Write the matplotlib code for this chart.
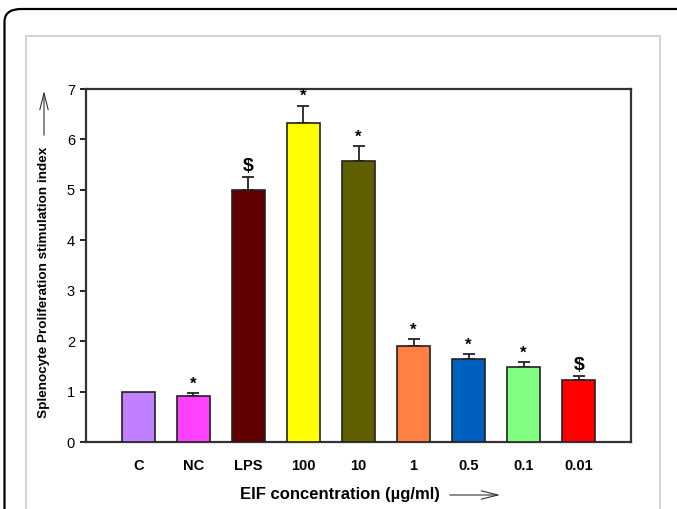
import matplotlib
matplotlib.use("Agg")
import matplotlib.pyplot as plt
from matplotlib.patches import FancyBboxPatch, Rectangle, FancyArrowPatch

plt.rcParams['font.family'] = ['Liberation Sans', 'DejaVu Sans']

categories = ["C", "NC", "LPS", "100", "10", "1", "0.5", "0.1", "0.01"]
values = [1.0, 0.91, 5.0, 6.32, 5.57, 1.91, 1.64, 1.49, 1.23]
errors = [0.0, 0.06, 0.26, 0.35, 0.30, 0.13, 0.10, 0.10, 0.07]
marks = ["", "*", "$", "*", "*", "*", "*", "*", "$"]
colors = ["#C080FF", "#FF40FF", "#600000", "#FFFF00", "#606000",
          "#FF8040", "#0060C0", "#80FF80", "#FF0000"]
yticks = [0, 1, 2, 3, 4, 5, 6, 7]

W, H = 677, 509
fig = plt.figure(figsize=(W / 100, H / 100), dpi=100)

# outer rounded black frame and inner light-grey frame
outer = FancyBboxPatch((4.5 / W, -0.2), 1.2, (H - 9) / H + 0.2,
                       boxstyle="round,pad=0,rounding_size=0.025",
                       transform=fig.transFigure, fill=False,
                       edgecolor="black", linewidth=1.6)
fig.patches.append(outer)
inner = Rectangle((26 / W, -0.1), (660 - 26) / W, (H - 36) / H + 0.1,
                  transform=fig.transFigure, fill=False,
                  edgecolor="#CCCCCC", linewidth=1.2)
fig.patches.append(inner)

left, right, top, bottom = 86, 631, 89, 442
ax = fig.add_axes([left / W, 1 - bottom / H, (right - left) / W, (bottom - top) / H])

x = list(range(len(categories)))
ax.bar(x, values, width=0.6, color=colors, edgecolor="#222222", linewidth=1.2, zorder=3)
err_x = [xi for xi, e in zip(x, errors) if e > 0]
err_v = [v for v, e in zip(values, errors) if e > 0]
err_e = [e for e in errors if e > 0]
ax.errorbar(err_x, err_v, yerr=[[0] * len(err_e), err_e], fmt="none",
            ecolor="#222222", elinewidth=1.3, capsize=4, capthick=1.3, zorder=2)

for xi, v, e, m in zip(x, values, errors, marks):
    if m == "*":
        ax.text(xi, v + e + 0.03, m, ha="center", va="bottom", fontsize=12,
                fontweight="bold")
    elif m == "$":
        ax.text(xi, v + e + 0.04, m, ha="center", va="bottom", fontsize=14,
                fontweight="bold")

ax.set_xlim(-0.95, 8.95)
ax.set_ylim(0, 7)
ax.set_yticks(yticks)
ax.set_yticklabels([str(t) for t in yticks], fontsize=10.5)
ax.set_xticks(x)
ax.set_xticklabels(categories, fontsize=10.5, fontweight="bold")
ax.tick_params(axis="x", length=0, pad=12)
ax.tick_params(axis="y", length=4, width=1.2, direction="out", pad=4)
for s in ax.spines.values():
    s.set_linewidth(1.6)
    s.set_color("#333333")

# axis labels with arrows
fig.text(340 / W, 1 - 494 / H, "EIF concentration (\u00b5g/ml)", ha="center",
         va="center", fontsize=12, fontweight="bold")
fig.patches.append(FancyArrowPatch((447 / W, 1 - 495 / H), (503 / W, 1 - 495 / H),
                                   transform=fig.transFigure,
                                   arrowstyle="->,head_length=12,head_width=3",
                                   linewidth=0.8, color="#333333"))
fig.text(44 / W, 1 - 282 / H, "Splenocyte Proliferation stimulation index",
         ha="center", va="center", rotation=90, fontsize=9.7, fontweight="bold")
fig.patches.append(FancyArrowPatch((44 / W, 1 - 138 / H), (44 / W, 1 - 88 / H),
                                   transform=fig.transFigure,
                                   arrowstyle="->,head_length=12,head_width=3",
                                   linewidth=0.8, color="#333333"))

fig.savefig("out.png", dpi=100)
